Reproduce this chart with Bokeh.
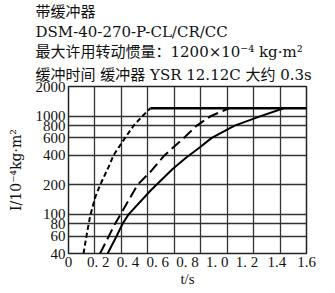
from bokeh.plotting import figure
from bokeh.models import Range1d, FixedTicker, Title
from bokeh.embed import file_html
from bokeh.resources import INLINE

# ---- data ----
t_short = [0.101, 0.123, 0.146, 0.180, 0.213, 0.269, 0.303, 0.370, 0.438, 0.493, 0.550]
I_short = [40, 63, 97, 150, 200, 303, 400, 569, 800, 986, 1200]

t_mid = [0.212, 0.271, 0.312, 0.350, 0.464, 0.559, 0.646, 0.776, 0.862, 0.956, 1.079]
I_mid = [40, 60, 80, 100, 200, 280, 400, 600, 800, 1000, 1200]

t_long = [0.263, 0.323, 0.363, 0.404, 0.552, 0.619, 0.700, 0.788, 0.875, 0.963, 1.117, 1.292, 1.447]
I_long = [40, 60, 80, 100, 175, 220, 290, 375, 470, 600, 800, 1000, 1200]

I_max = 1200
t_max = 1.6

x_ticks = [0, 0.2, 0.4, 0.6, 0.8, 1.0, 1.2, 1.4, 1.6]
x_tick_labels = ["0", "0. 2", "0. 4", "0. 6", "0. 8", "1. 0", "1. 2", "1.4", "1.6"]
x_grid_count = 9
y_ticks = [40, 60, 80, 100, 200, 400, 600, 800, 1000, 2000]

title_lines = [
    "带缓冲器",
    "DSM-40-270-P-CL/CR/CC",
    "最大许用转动惯量：1200×10⁻⁴ kg·m²",
    "缓冲时间 缓冲器 YSR 12.12C 大约 0.3s",
]

SERIF = "Liberation Serif, Noto Sans CJK SC"
WIDE_SERIF = "DejaVu Serif, Noto Sans CJK SC"

p = figure(width=335, height=293, output_backend="svg", toolbar_location=None,
           y_axis_type="log",
           x_range=Range1d(0, t_max), y_range=Range1d(40, 2000),
           min_border_left=68, min_border_right=29, min_border_top=0, min_border_bottom=40)
p.background_fill_color = "white"
p.border_fill_color = "white"
p.outline_line_color = "#222222"
p.outline_line_width = 1.5

# grids
p.xgrid.ticker = FixedTicker(ticks=[k * t_max / x_grid_count for k in range(x_grid_count + 1)])
p.xgrid.grid_line_color = "#333333"
p.xgrid.grid_line_width = 1.3
p.ygrid.ticker = FixedTicker(ticks=y_ticks)
p.ygrid.grid_line_color = "#333333"
p.ygrid.grid_line_width = 1.3

# axes
p.xaxis.ticker = FixedTicker(ticks=x_ticks)
p.xaxis.major_label_overrides = {t: lab for t, lab in zip(x_ticks, x_tick_labels)}
p.yaxis.ticker = FixedTicker(ticks=y_ticks)
p.yaxis.major_label_overrides = {v: str(v) for v in y_ticks}
for ax in (p.xaxis[0], p.yaxis[0]):
    ax.axis_line_color = None
    ax.major_tick_line_color = None
    ax.minor_tick_line_color = None
    ax.major_tick_out = 0
    ax.major_tick_in = 0
    ax.minor_tick_out = 0
    ax.minor_tick_in = 0
    ax.major_label_text_font = SERIF
    ax.major_label_text_font_size = "15px"
    ax.major_label_text_color = "#111111"
    ax.axis_label_text_font = SERIF
    ax.axis_label_text_font_size = "15px"
    ax.axis_label_text_font_style = "normal"
    ax.axis_label_text_color = "#111111"
p.xaxis.major_label_standoff = 0
p.yaxis.major_label_standoff = 3
p.xaxis.axis_label = "t/s"
p.xaxis.axis_label_standoff = -2
p.yaxis.axis_label = "I/10⁻⁴kg·m²"
p.yaxis.axis_label_text_font = WIDE_SERIF
p.yaxis.axis_label_text_font_size = "14px"
p.yaxis.axis_label_standoff = 9

# curves
p.line(t_short, I_short, line_color="black", line_width=2, line_dash="5 3")
p.line(t_mid, I_mid, line_color="black", line_width=2, line_dash="11 5")
p.line(t_long, I_long, line_color="black", line_width=2)
p.line([t_short[-1], t_max], [I_max, I_max], line_color="black", line_width=2.5)

# title lines: p.title is the outermost; added titles stack outward from the plot
def title_kw(txt, so):
    return dict(text=txt, align="left", offset=-33, standoff=so,
                text_font=WIDE_SERIF, text_font_size="15px", text_font_style="normal",
                text_color="#111111")

p.title.update(**title_kw(title_lines[0], 0))
p.add_layout(Title(**title_kw(title_lines[3], 5)), "above")
p.add_layout(Title(**title_kw(title_lines[2], 1)), "above")
p.add_layout(Title(**title_kw(title_lines[1], 0)), "above")

open("out.html", "w").write(file_html(p, INLINE))
